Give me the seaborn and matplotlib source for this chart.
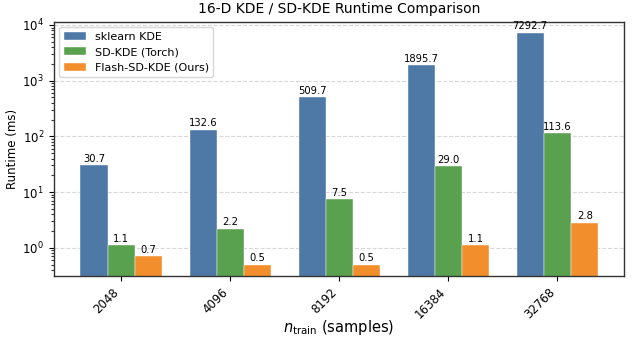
import matplotlib
matplotlib.use("Agg")
import matplotlib.pyplot as plt
from matplotlib.ticker import FixedLocator, LogLocator, NullFormatter
import seaborn as sns
import pandas as pd

n_train = ["2048", "4096", "8192", "16384", "32768"]
sklearn_kde = [30.7, 132.6, 509.7, 1895.7, 7292.7]
sd_kde_torch = [1.1, 2.2, 7.5, 29.0, 113.6]
flash_sd_kde = [0.7, 0.5, 0.5, 1.1, 2.8]
series_names = ["sklearn KDE", "SD-KDE (Torch)", "Flash-SD-KDE (Ours)"]
colors = ["#4e79a7", "#59a14f", "#f28e2b"]

rows = []
for name, vals in zip(series_names, [sklearn_kde, sd_kde_torch, flash_sd_kde]):
    for n, v in zip(n_train, vals):
        rows.append({"n": n, "method": name, "runtime": v})
df = pd.DataFrame(rows)

plt.rcParams["font.family"] = ["DejaVu Sans"]
fig, ax = plt.subplots(figsize=(6.4, 3.43), dpi=100)
sns.barplot(data=df, x="n", y="runtime", hue="method", order=n_train,
            hue_order=series_names, palette=colors, width=0.75, ax=ax,
            edgecolor="white", linewidth=0.3, saturation=1, log_scale=(False, True))
ax.set_yscale("log")
ax.set_ylim(0.314, 11500)
ax.set_xlim(-0.62, 4.61)
ax.yaxis.set_major_locator(LogLocator(base=10))
minor_locs = [m * 10.0 ** e for e in range(-1, 5) for m in range(2, 10)]
ax.yaxis.set_minor_locator(FixedLocator(minor_locs))
ax.yaxis.set_minor_formatter(NullFormatter())
ax.yaxis.grid(True, which="major", linestyle="--", color="#d8d8d8", linewidth=0.8)
ax.xaxis.grid(False)
ax.set_axisbelow(True)
for sp in ax.spines.values():
    sp.set_color("#333333")
    sp.set_linewidth(1.0)
for cont in ax.containers:
    ax.bar_label(cont, fmt="%.1f", fontsize=7.2, padding=1)
ax.set_title("16-D KDE / SD-KDE Runtime Comparison", fontsize=10, pad=6)
ax.set_xlabel(r"$n_{\mathrm{train}}$ (samples)", fontsize=10.5, labelpad=-2)
ax.set_ylabel("Runtime (ms)", fontsize=8.5, labelpad=2)
plt.setp(ax.get_xticklabels(), rotation=45, ha="right", rotation_mode="default", fontsize=8.5)
ax.tick_params(axis="y", labelsize=8.5)
ax.tick_params(axis="both", which="major", length=3.5, width=0.8)
ax.tick_params(axis="y", which="minor", length=2.5, width=0.8, left=True, color="#333333")
ax.legend(title=None, loc="upper left", fontsize=8, frameon=True)
plt.subplots_adjust(left=0.084, right=0.975, top=0.937, bottom=0.196)
fig.savefig("out.png", dpi=100)
